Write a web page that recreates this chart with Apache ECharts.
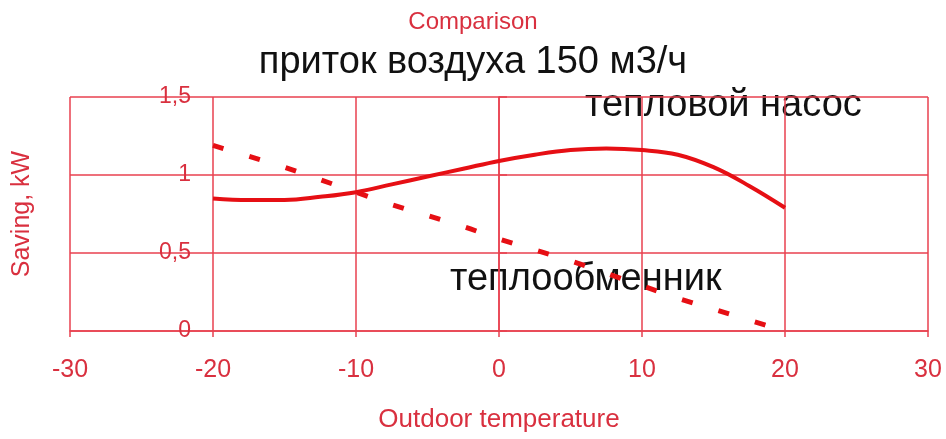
<!DOCTYPE html>
<html>
<head>
<meta charset="utf-8">
<script src="https://cdn.jsdelivr.net/npm/echarts@6/dist/echarts.min.js"></script>
<style>html,body{margin:0;padding:0;background:#fff;}#c{width:946px;height:439px;}</style>
</head>
<body>
<div id="c"></div>
<script>
const temps = [-20,-17.5,-15,-12.5,-10,-7.5,-5,-2.5,0,2.5,5,7.5,10,12.5,15,17.5,20];
const heatPump = [0.85,0.84,0.84,0.86,0.89,0.94,0.99,1.04,1.09,1.13,1.16,1.17,1.16,1.13,1.05,0.93,0.79];
const heatExchanger = [1.19,1.12,1.05,0.97,0.89,0.81,0.74,0.67,0.59,0.52,0.45,0.37,0.29,0.21,0.14,0.07,0.0];
const xTicks = [-30,-20,-10,0,10,20,30];
const yTicks = [0,0.5,1,1.5];
const titleText = 'Comparison';
const subtitleText = 'приток воздуха 150 м3/ч';
const label1 = 'тепловой насос';
const label2 = 'теплообменник';

const gridColor = '#e8404f';
const textRed = '#d9303f';
const lineRed = '#e60f14';
const font = 'Liberation Sans, Arial, sans-serif';

const chart = echarts.init(document.getElementById('c'), null, {renderer:'canvas'});
chart.setOption({
  animation:false,
  backgroundColor:'#fff',
  title:[
    {text:titleText, left:'center', top:5, textStyle:{color:textRed, fontSize:24, fontWeight:'normal', fontFamily:font}},
    {text:subtitleText, left:'center', top:39, textStyle:{color:'#111', fontSize:38, fontWeight:'normal', fontFamily:font}}
  ],
  grid:{left:70, right:18, top:97, bottom:108, outerBoundsMode:'none', containLabel:false},
  xAxis:{
    type:'value', min:xTicks[0], max:xTicks[xTicks.length-1], interval:10,
    name:'Outdoor temperature', nameLocation:'middle', nameGap:76,
    nameTextStyle:{color:textRed, fontSize:26, fontFamily:font},
    axisLine:{show:true, onZero:false, lineStyle:{color:gridColor, width:1.5}},
    axisTick:{show:true, length:6, lineStyle:{color:gridColor, width:1.5}},
    axisLabel:{color:textRed, fontSize:25, fontFamily:font, margin:27},
    splitLine:{show:true, lineStyle:{color:gridColor, width:1.5}}
  },
  yAxis:{
    type:'value', min:yTicks[0], max:yTicks[yTicks.length-1], interval:0.5,
    offset:-143,
    name:'Saving, kW', nameLocation:'middle', nameGap:178,
    nameTextStyle:{color:textRed, fontSize:25, fontFamily:font},
    axisLine:{show:true, lineStyle:{color:gridColor, width:1.5}},
    axisTick:{show:true, inside:true, length:8, lineStyle:{color:gridColor, width:1.5}},
    axisLabel:{color:textRed, fontSize:23, fontFamily:font, margin:22,
      formatter:v=>String(v).replace('.',',')},
    splitLine:{show:true, lineStyle:{color:gridColor, width:1.5}}
  },
  graphic:[
    {type:'text', left:585, top:87, style:{text:label1, fill:'#111', font:'38px '+font}},
    {type:'text', left:450, top:261, style:{text:label2, fill:'#111', font:'38px '+font}}
  ],
  series:[
    {type:'line', data:temps.map((t,i)=>[t,heatPump[i]]), smooth:0.4, showSymbol:false,
     lineStyle:{color:lineRed, width:4}},
    {type:'line', data:temps.map((t,i)=>[t,heatExchanger[i]]), smooth:0.3, showSymbol:false,
     lineStyle:{color:lineRed, width:5, type:[11,27], cap:'butt'}}
  ]
});
</script>
</body>
</html>
